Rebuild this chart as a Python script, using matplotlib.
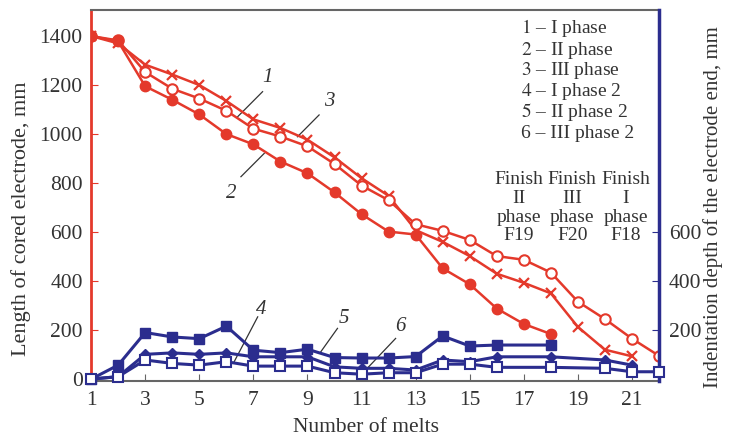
import numpy as np
import matplotlib.pyplot as plt

plt.rcParams['font.family'] = ['Liberation Serif', 'DejaVu Serif']
plt.rcParams['mathtext.fontset'] = 'stix'

RED = '#e4392b'
BLUE = '#2b2d8e'

# red series: electrode length, mm
x_cross = list(range(1, 22))
y_cross = [1400, 1370, 1283, 1243, 1200, 1135, 1060, 1025, 977, 905, 820,
           748, 608, 560, 502, 430, 393, 350, 213, 120, 93]
x_open = list(range(1, 23))
y_open = [1400, 1382, 1253, 1185, 1145, 1095, 1022, 990, 950, 878, 790,
          730, 632, 605, 568, 502, 487, 435, 316, 245, 165, 95]
x_fill = list(range(1, 19))
y_fill = [1400, 1378, 1195, 1140, 1080, 1000, 958, 888, 840, 762, 673,
          602, 590, 452, 387, 288, 225, 184]

# blue series: indentation depth, mm
x_sq = list(range(1, 17)) + [18]
y_sq = [0, 57, 190, 172, 165, 216, 118, 108, 122, 88, 86, 86, 92, 176, 135, 139, 139]
x_dia = list(range(1, 17)) + [18, 20, 21]
y_dia = [0, 10, 101, 107, 101, 107, 91, 91, 91, 50, 44, 44, 37, 78, 71, 91, 91, 78, 57]
x_osq = list(range(1, 17)) + [18, 20, 21, 22]
y_osq = [0, 10, 78, 64, 57, 71, 53, 53, 53, 26, 20, 26, 26, 61, 61, 48, 48, 44, 30, 30]

legend_lines = [("1", "I phase"), ("2", "II phase"), ("3", "III phase"),
                ("4", "I phase 2"), ("5", "II phase 2"), ("6", "III phase 2")]
finish_x = [16.82, 18.79, 20.77]
finish_text = ["Finish\nII\nphase\nF19", "Finish\nIII\nphase\nF20", "Finish\nI\nphase\nF18"]

TXT = '#333333'

fig = plt.figure(figsize=(7.29, 4.38), dpi=100)
ax = fig.add_axes([0.125, 0.130, 0.779, 0.847])

ax.plot(x_cross, y_cross, color=RED, lw=1.8, marker='x', ms=7.5, mew=1.6, zorder=3)
ax.plot(x_open, y_open, color=RED, lw=1.8, marker='o', ms=7.5, mfc='white', mew=1.5, zorder=3)
ax.plot(x_fill, y_fill, color=RED, lw=1.8, marker='o', ms=7.5, zorder=3)

ax.set_xlim(1, 22)
ax.set_ylim(-8, 1506)
ax.set_xticks(range(1, 22, 2))
ax.set_yticks(range(0, 1401, 200))
ax.tick_params(direction='in', labelsize=15.5, length=5, labelcolor=TXT)
ax.tick_params(axis='x', pad=7, color='#666666')
ax.tick_params(axis='y', pad=6, color=RED)
ax.spines['left'].set_color(RED)
ax.spines['left'].set_linewidth(2)
ax.spines['right'].set_visible(False)
ax.spines['top'].set_color('#666666')
ax.spines['top'].set_linewidth(1.5)
ax.spines['bottom'].set_color('#666666')
ax.spines['bottom'].set_linewidth(1.5)

ax.set_xlabel("Number of melts", fontsize=15.5, color=TXT)
ax.xaxis.set_label_coords(0.484, -0.10)
ax.set_ylabel("Length of cored electrode, mm", fontsize=16, color=TXT)
ax.yaxis.set_label_coords(-0.105, 0.437)

ax2 = ax.twinx()
ax2.set_position(ax.get_position())
ax2.plot(x_sq, y_sq, color=BLUE, lw=2.2, marker='s', ms=7, zorder=3, clip_on=False)
ax2.plot(x_dia, y_dia, color=BLUE, lw=2.2, marker='D', ms=5.5, zorder=3, clip_on=False)
ax2.plot(x_osq, y_osq, color=BLUE, lw=2.2, marker='s', ms=7, mfc='white', mew=1.5,
         zorder=3, clip_on=False)
ax2.set_ylim(-8, 1506)
ax2.set_yticks([200, 400, 600])
ax2.tick_params(direction='in', labelsize=15.5, length=5, labelcolor=TXT, color=BLUE, pad=7)
for s in ['left', 'top', 'bottom']:
    ax2.spines[s].set_visible(False)
ax2.spines['right'].set_color(BLUE)
ax2.spines['right'].set_linewidth(2.5)
ax2.set_ylabel("Indentation depth of the electrode end, mm", fontsize=15, color=TXT)
ax2.yaxis.set_label_coords(1.078, 0.47)

# curve numbers with leader lines
num_style = dict(fontsize=15, style='italic', color=TXT, ha='center', va='center')
ax.text(7.54, 1229, "1", **num_style)
ax.plot([7.34, 6.42], [1173, 1071], color=TXT, lw=0.9)
ax.text(9.79, 1132, "3", **num_style)
ax.plot([9.43, 8.63], [1078, 989], color=TXT, lw=0.9)
ax.text(6.17, 759, "2", **num_style)
ax.plot([6.54, 7.40], [826, 921], color=TXT, lw=0.9)
ax.text(7.28, 282, "4", **num_style)
ax.plot([7.16, 6.29], [254, 71], color=TXT, lw=0.9)
ax.text(10.35, 248, "5", **num_style)
ax.plot([10.11, 9.49], [207, 111], color=TXT, lw=0.9)
ax.text(12.45, 213, "6", **num_style)
ax.plot([12.26, 11.03], [166, 23], color=TXT, lw=0.9)

# legend block
leg_y = [1431, 1342, 1260, 1175, 1090, 1001]
for (num, txt), yy in zip(legend_lines, leg_y):
    numtxt = num if num == "6" else r"$\mathit{" + num + "}$"
    ax.text(16.90, yy, numtxt + " \u2013 " + txt, fontsize=14, color=TXT,
            ha='left', va='center')

for xx, t in zip(finish_x, finish_text):
    ax.text(xx, 700, t, fontsize=14, color=TXT, ha='center', va='center',
            linespacing=1.15)

fig.savefig("out.png", dpi=100)
